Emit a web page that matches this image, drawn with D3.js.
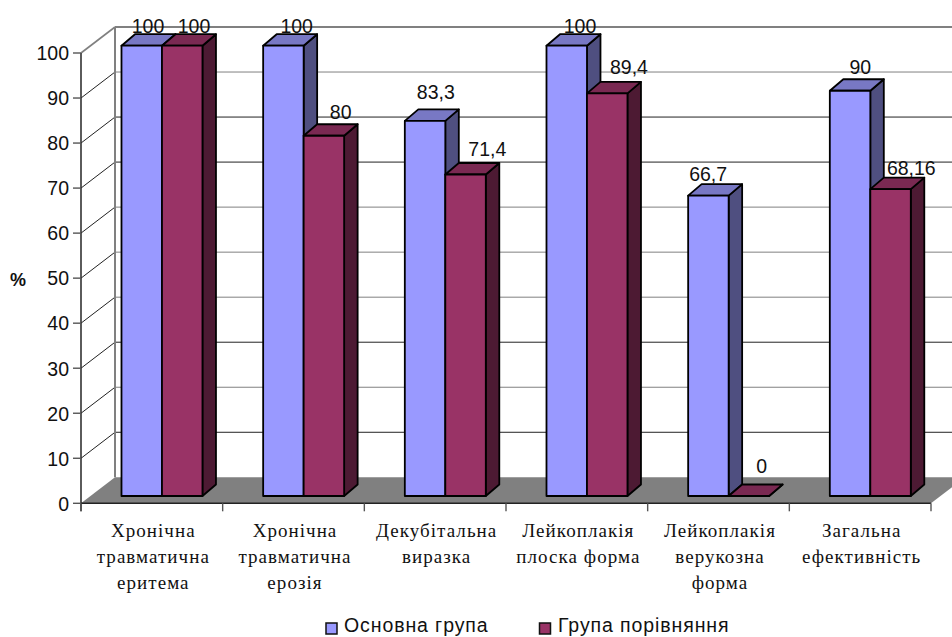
<!DOCTYPE html>
<html><head><meta charset="utf-8">
<script src="https://cdnjs.cloudflare.com/ajax/libs/d3/7.8.5/d3.min.js"></script>
<style>html,body{margin:0;padding:0;background:#fff}svg{display:block}</style>
</head><body><svg id="c" width="952" height="637"></svg>
<script>
// Treatment efficacy by lesion type, in percent
const categories = [
  ["Хронічна","травматична","еритема"],
  ["Хронічна","травматична","ерозія"],
  ["Декубітальна","виразка"],
  ["Лейкоплакія","плоска форма"],
  ["Лейкоплакія","верукозна","форма"],
  ["Загальна","ефективність"]
];
const seriesNames = ["Основна група","Група порівняння"];
const mainGroup = [100,100,83.3,100,66.7,90];
const comparisonGroup = [100,80,71.4,89.4,0,68.16];
const comparisonText = ["100","80","71,4","89,4","0","68,16"];
const mainText = ["100","100","83,3","100","66,7","90"];
const yTicks = d3.range(0,101,10);

// Hand placement of the value labels around each bar top: [dx, dy]
const mainLabelShift = [[26.5,-12.5],[33.5,-12.5],[31,-21.5],[33.5,-12.5],[20,-14.5],[30.5,-17]];
const comparisonLabelShift = [[32,-12.5],[37,-17],[42,-18.5],[42,-19],[33,-23],[41,-14.5]];

const svg = d3.select("#c");
const frontLeft = 81, frontRight = 931, depthX = 34, depthY = 26;
const fy = d3.scaleLinear().domain([0,100]).range([503.3,53]);   // front axis
const barY = d3.scaleLinear().domain([0,100]).range([496,45.7]); // bar faces
const cat = d3.scaleBand().domain(d3.range(categories.length)).range([frontLeft,frontRight]);
const barW = cat.bandwidth()*0.2858, barInset = cat.bandwidth()*0.2858;
const barDX = 13.5, barDY = 11.5;
const poly = pts => pts.map(p=>p.join(",")).join(" ");

// Back wall and gridlines
const gridColor = v => (v===100||v===90||v===60||v===50||v===40||v===20) ? "#808080" : "#222";
yTicks.filter(v=>v>0).forEach(v=>{
  const y = fy(v);
  svg.append("line").attr("x1",frontLeft+depthX).attr("x2",952).attr("y1",y-depthY).attr("y2",y-depthY)
    .attr("stroke",gridColor(v)).attr("stroke-width",v===100?1.8:1);
  svg.append("line").attr("x1",frontLeft).attr("x2",frontLeft+depthX).attr("y1",y).attr("y2",y-depthY)
    .attr("stroke",v===100?"#808080":"#222").attr("stroke-width",v===100?1.6:1);
});
svg.append("line").attr("x1",frontLeft+depthX).attr("x2",frontLeft+depthX)
  .attr("y1",fy(100)-depthY).attr("y2",fy(0)-depthY).attr("stroke","#808080").attr("stroke-width",2);

// Floor
svg.append("polygon").attr("fill","#808080")
  .attr("points",poly([[frontLeft,fy(0)],[frontRight,fy(0)],[frontRight+depthX,fy(0)-depthY],[frontLeft+depthX,fy(0)-depthY]]));

// Axes
svg.append("line").attr("x1",frontLeft).attr("x2",frontLeft).attr("y1",fy(100)).attr("y2",fy(0)+8)
  .attr("stroke","#333").attr("stroke-width",1.6);
svg.append("line").attr("x1",frontLeft).attr("x2",frontRight).attr("y1",fy(0)).attr("y2",fy(0))
  .attr("stroke","#222").attr("stroke-width",1.4);
yTicks.forEach(v=>{
  svg.append("line").attr("x1",frontLeft-8).attr("x2",frontLeft).attr("y1",fy(v)).attr("y2",fy(v))
    .attr("stroke","#555").attr("stroke-width",1.4);
  svg.append("text").attr("x",69).attr("y",fy(v)+7.3).attr("text-anchor","end")
    .attr("font-family","Liberation Sans").attr("font-size",19.5).attr("fill","#111").text(v);
});
d3.range(categories.length+1).forEach(i=>{
  const x = i<categories.length ? cat(i) : frontRight;
  svg.append("line").attr("x1",x).attr("x2",x).attr("y1",fy(0)).attr("y2",fy(0)+8)
    .attr("stroke","#555").attr("stroke-width",1.4);
});

// Bars as extruded boxes
function drawBar(x,v,front,top,side){
  const y0 = barY(0), y1 = barY(v), g = svg.append("g").attr("stroke","#000").attr("stroke-width",1.8).attr("stroke-linejoin","round");
  g.append("polygon").attr("fill",side).attr("points",poly([[x+barW,y0],[x+barW+barDX,y0-barDY],[x+barW+barDX,y1-barDY],[x+barW,y1]]));
  g.append("polygon").attr("fill",top).attr("points",poly([[x,y1],[x+barDX,y1-barDY],[x+barW+barDX,y1-barDY],[x+barW,y1]]));
  g.append("rect").attr("fill",front).attr("x",x).attr("y",y1).attr("width",barW).attr("height",y0-y1);
}
categories.forEach((_,i)=>{
  const x = cat(i)+barInset;
  drawBar(x,mainGroup[i],"#9999ff","#7878c4","#4f4f80");
  drawBar(x+barW,comparisonGroup[i],"#993366","#7a2952","#4d1a33");
});

// Value labels
const valueLabel = (x,y,t)=>svg.append("text").attr("x",x).attr("y",y).attr("text-anchor","middle")
  .attr("font-family","Liberation Sans").attr("font-size",19.5).attr("fill","#111").text(t);
categories.forEach((_,i)=>{
  const x = cat(i)+barInset;
  valueLabel(x+mainLabelShift[i][0],barY(mainGroup[i])+mainLabelShift[i][1],mainText[i]);
  valueLabel(x+barW+comparisonLabelShift[i][0],barY(comparisonGroup[i])+comparisonLabelShift[i][1],comparisonText[i]);
});

// Category labels
categories.forEach((lines,i)=>{
  lines.forEach((t,j)=>{
    svg.append("text").attr("x",cat(i)+cat.bandwidth()/2+1.5).attr("y",536.7+j*26.2).attr("text-anchor","middle")
      .attr("font-family","Liberation Serif").attr("font-size",19).attr("letter-spacing",1.05).attr("fill","#111").text(t);
  });
});

// Y axis title
svg.append("text").attr("x",18).attr("y",286).attr("text-anchor","middle")
  .attr("font-family","Liberation Sans").attr("font-weight","bold").attr("font-size",18).attr("fill","#111").text("%");

// Legend, kept just above the bottom edge so the descenders stay visible
[[326,"#9999ff",344],[539.5,"#993366",558]].forEach(([x,c,tx],i)=>{
  svg.append("rect").attr("x",x).attr("y",623).attr("width",11).attr("height",11).attr("fill",c).attr("stroke","#111").attr("stroke-width",1.5);
  svg.append("text").attr("x",tx).attr("y",632).attr("font-family","Liberation Sans").attr("font-size",19.5).attr("letter-spacing",0.9).attr("fill","#111").text(seriesNames[i]);
});
</script></body></html>
